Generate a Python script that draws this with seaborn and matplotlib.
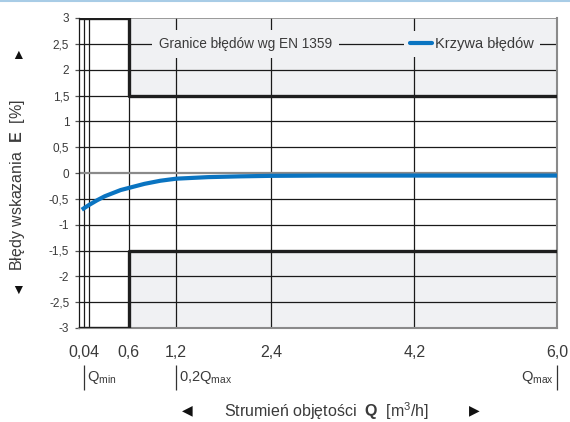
import numpy as np
import pandas as pd
import seaborn as sns
import matplotlib.pyplot as plt
from matplotlib.lines import Line2D

# dane
q_curve = [0.01, 0.04, 0.1, 0.2, 0.3, 0.4, 0.5, 0.6, 0.8, 1.0, 1.2, 1.6, 2.0, 2.4, 3.0, 4.2, 6.0]
e_curve = [-0.71, -0.68, -0.62, -0.53, -0.45, -0.39, -0.33, -0.29, -0.21, -0.15, -0.11, -0.08, -0.065, -0.055, -0.05, -0.05, -0.05]

X_MIN = -0.025
q_lim = [X_MIN, 0.6, 0.6, 6.0]
e_upper = [3, 3, 1.5, 1.5]
e_lower = [-3, -3, -1.5, -1.5]

x_ticks = [0.04, 0.6, 1.2, 2.4, 4.2, 6.0]
x_labels = ['0,04', '0,6', '1,2', '2,4', '4,2', '6,0']
x_grid = [0.04, 0.1, 0.6, 1.2, 2.4, 4.2]
y_ticks = [3, 2.5, 2, 1.5, 1, 0.5, 0, -0.5, -1, -1.5, -2, -2.5, -3]
y_labels = ['3', '2,5', '2', '1,5', '1', '0,5', '0', '-0,5', '-1', '-1,5', '-2', '-2,5', '-3']

q_marks = [0.04, 1.2, 6.0]
q_mark_labels = ['Q$_{\\mathrm{min}}$', '0,2Q$_{\\mathrm{max}}$', 'Q$_{\\mathrm{max}}$']

sns.set_style('white')
plt.rcParams['font.family'] = ['Liberation Sans', 'DejaVu Sans']
plt.rcParams['mathtext.fontset'] = 'custom'
plt.rcParams['mathtext.rm'] = 'Liberation Sans'
plt.rcParams['mathtext.bf'] = 'Liberation Sans:bold'
plt.rcParams['mathtext.it'] = 'Liberation Sans'

TXT = '#3a3a3a'
SHADE = '#f0f1f3'
BLUE = '#0a74c1'

fig = plt.figure(figsize=(5.7, 4.22), dpi=100)
ax = fig.add_axes([79 / 570, 1 - 328 / 422, (557 - 79) / 570, 310 / 422])

# szare pola poza granicami
ax.fill_between(q_lim, e_upper, 3, color=SHADE, lw=0, zorder=0)
ax.fill_between(q_lim, -3, e_lower, color=SHADE, lw=0, zorder=0)

# siatka
for x in x_grid:
    ax.axvline(x, color='#1a1a1a', lw=0.9, zorder=1)
for y in y_ticks:
    if y == 0 or abs(y) == 3:
        continue
    ax.axhline(y, color='#1a1a1a', lw=0.9, zorder=1)
ax.axhline(0, color='#8a8a8a', lw=1.6, zorder=1)
ax.axhline(3, color='#8a8a8a', lw=1.2, zorder=1)

# granice bledow
lim_df = pd.DataFrame({'q': q_lim + q_lim, 'e': e_upper + e_lower,
                       'g': ['up'] * 4 + ['low'] * 4})
sns.lineplot(data=lim_df, x='q', y='e', units='g', estimator=None, sort=False,
             color='#1e1e1e', lw=2.4, ax=ax, zorder=4, legend=False)

# krzywa bledow
sns.lineplot(x=q_curve, y=e_curve, color=BLUE, lw=3.0, ax=ax, zorder=5,
             solid_capstyle='butt', legend=False)

ax.set_xlim(X_MIN, 6.0)
ax.set_ylim(-3, 3)
ax.set_xticks(x_ticks)
ax.set_xticklabels(x_labels, fontsize=11.5, color=TXT)
ax.set_yticks(y_ticks)
ax.set_yticklabels(y_labels, fontsize=8.5, color=TXT)
ax.tick_params(axis='x', length=0, pad=12)
ax.tick_params(axis='y', length=3, width=0.9, color='#555', pad=4, left=True)
ax.set_xlabel('')
ax.set_ylabel('')

ax.spines['top'].set_visible(False)
ax.spines['left'].set_color('#1a1a1a')
ax.spines['left'].set_linewidth(0.9)
ax.spines['right'].set_color('#8a8a8a')
ax.spines['right'].set_linewidth(1.5)
ax.spines['bottom'].set_color('#8a8a8a')
ax.spines['bottom'].set_linewidth(1.5)

# legenda
ax.text(2.07, 2.5, 'Granice błędów wg EN 1359', ha='center', va='center',
        fontsize=9.8, color=TXT, zorder=3,
        bbox=dict(facecolor=SHADE, edgecolor='none', boxstyle='square,pad=0.5'))
leg = ax.legend(handles=[Line2D([], [], color=BLUE, lw=3)], labels=['Krzywa błędów'],
                loc='center', bbox_to_anchor=(4.93, 2.5), bbox_transform=ax.transData,
                frameon=True, fancybox=False, facecolor=SHADE, edgecolor='none',
                framealpha=1, fontsize=10.5, handlelength=1.5, handletextpad=0.25,
                borderpad=0.4, borderaxespad=0)
for t in leg.get_texts():
    t.set_color(TXT)
leg.set_zorder(3)

# oznaczenia Qmin / Qmax
tr = ax.get_xaxis_transform()
ax.vlines(q_marks, -0.2, -0.118, transform=tr, clip_on=False, colors='#333', lw=0.9)
for q, lab in zip(q_marks, q_mark_labels):
    right = q == q_marks[-1]
    ax.annotate(lab, xy=(q, -0.16), xycoords=tr,
                xytext=(-2 if right else 2, 0), textcoords='offset points',
                ha='right' if right else 'left', va='center', fontsize=10.5, color=TXT)

# opisy osi
fig.text(18 / 570, 1 - 185 / 422, 'Błędy wskazania  $\\mathbf{E}$  [%]', rotation=90,
         ha='center', va='center', fontsize=11.5, color=TXT)
fig.text(18 / 570, 1 - 55 / 422, '▲', ha='center', va='center', fontsize=10, color='#111')
fig.text(18 / 570, 1 - 290 / 422, '▼', ha='center', va='center', fontsize=10, color='#111')
fig.text(327 / 570, 1 - 411 / 422, 'Strumień objętości  $\\mathbf{Q}$  [m$^3$/h]',
         ha='center', va='center', fontsize=11.5, color=TXT)
fig.text(187 / 570, 1 - 410 / 422, '◀', ha='center', va='center', fontsize=10, color='#111')
fig.text(474 / 570, 1 - 410 / 422, '▶', ha='center', va='center', fontsize=10, color='#111')

# niebieska linia u gory
fig.add_artist(Line2D([0, 1], [0.998, 0.998], transform=fig.transFigure,
                      color='#a8cce6', lw=1.5))

fig.savefig('out.png', dpi=100)
